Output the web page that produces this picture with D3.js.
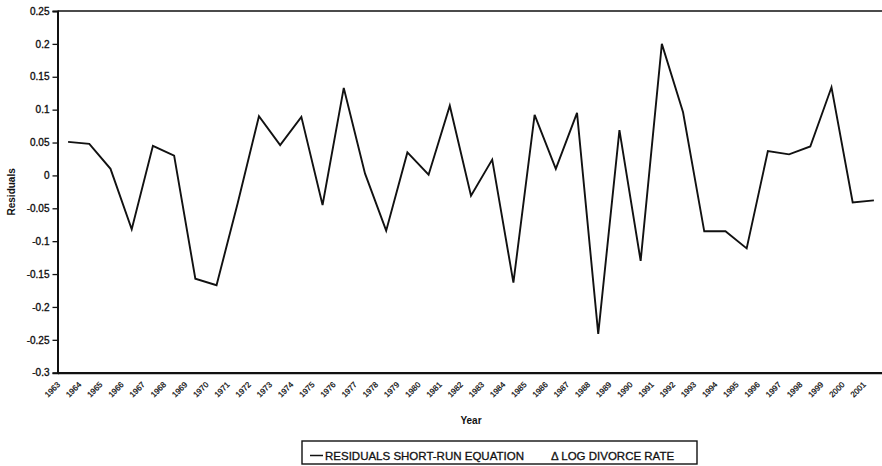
<!DOCTYPE html>
<html>
<head>
<meta charset="utf-8">
<script src="https://cdn.jsdelivr.net/npm/d3@7"></script>
<style>
html,body{margin:0;padding:0;background:#fff;}
svg{display:block;font-family:"Liberation Sans",Arial,sans-serif;}
</style>
</head>
<body>
<svg id="chart" width="882" height="466"></svg>
<script>
const years = ["1963","1964","1965","1966","1967","1968","1969","1970","1971","1972","1973","1974","1975","1976","1977","1978","1979","1980","1981","1982","1983","1984","1985","1986","1987","1988","1989","1990","1991","1992","1993","1994","1995","1996","1997","1998","1999","2000","2001"];
const residuals = [0.051,0.048,0.01,-0.082,0.045,0.03,-0.157,-0.167,-0.042,0.09,0.046,0.089,-0.045,0.133,0.003,-0.084,0.035,0.001,0.106,-0.031,0.024,-0.163,0.092,0.01,0.095,-0.241,0.069,-0.13,0.2,0.096,-0.085,-0.085,-0.111,0.037,0.032,0.044,0.134,-0.041,-0.038];
const yTickValues = [0.25,0.2,0.15,0.1,0.05,0,-0.05,-0.1,-0.15,-0.2,-0.25,-0.3];
const yTickLabels = ["0.25","0.2","0.15","0.1","0.05","0","-0.05","-0.1","-0.15","-0.2","-0.25","-0.3"];
const seriesName = "RESIDUALS SHORT-RUN EQUATION";
const seriesName2 = "\u0394 LOG DIVORCE RATE";

const svg = d3.select("#chart");
const L = 57.5, R = 884.5, T = 11, B = 372.7;

const x = d3.scalePoint().domain(years).range([L, R]).padding(0.5);
const y = d3.scaleLinear().domain([-0.3, 0.25]).range([B, T]);

// top border (and right, off-canvas)
svg.append("path").attr("d", `M${L},${T}H${R}V${B}`).attr("fill","none").attr("stroke","#111").attr("stroke-width",1.6);

// y axis
const yAxis = d3.axisLeft(y).tickValues(yTickValues)
  .tickFormat((d,i)=>yTickLabels[i]).tickSize(5).tickPadding(3);
const gy = svg.append("g").attr("transform",`translate(${L},0)`).call(yAxis);
gy.select(".domain").attr("stroke","#111").attr("stroke-width",2);
gy.selectAll(".tick line").attr("stroke","#111").attr("stroke-width",1.3);
gy.selectAll(".tick text").attr("font-size","10px").attr("fill","#111")
  .attr("stroke","#111").attr("stroke-width",0.35)
  .attr("font-family","'Liberation Sans',Arial,sans-serif");

// x axis
const xAxis = d3.axisBottom(x).tickSize(0).tickSizeOuter(0).tickFormat(d=>d);
const gx = svg.append("g").attr("transform",`translate(0,${B})`).call(xAxis);
gx.select(".domain").attr("stroke","#111").attr("stroke-width",2.2);
gx.selectAll(".tick text")
  .attr("font-size","8px").attr("fill","#111")
  .attr("stroke","#111").attr("stroke-width",0.25)
  .attr("font-family","'Liberation Sans',Arial,sans-serif")
  .attr("text-anchor","end").attr("dy",null).attr("y",null)
  .attr("transform","translate(-8,12.5) rotate(-45)");

// line
const line = d3.line().x((d,i)=>x(years[i])).y(d=>y(d));
svg.append("path").datum(residuals).attr("d",line)
  .attr("fill","none").attr("stroke","#111").attr("stroke-width",1.9).attr("stroke-linejoin","miter");

// axis titles
svg.append("text").attr("x",(L+R)/2).attr("y",424).attr("text-anchor","middle")
  .attr("font-size","10px").attr("font-weight","bold").attr("fill","#111").text("Year");
svg.append("text").attr("transform",`translate(15,${(T+B)/2}) rotate(-90)`).attr("text-anchor","middle")
  .attr("font-size","10px").attr("font-weight","bold").attr("fill","#111").text("Residuals");

// legend
const lg = svg.append("g");
lg.append("rect").attr("x",302).attr("y",441).attr("width",395).attr("height",23)
  .attr("fill","#fff").attr("stroke","#111").attr("stroke-width",1.4);
lg.append("line").attr("x1",310).attr("x2",323).attr("y1",455.5).attr("y2",455.5)
  .attr("stroke","#111").attr("stroke-width",1.5);
lg.append("text").attr("x",325).attr("y",460).attr("font-size","11.5px").attr("fill","#111")
  .attr("stroke","#111").attr("stroke-width",0.3).text(seriesName);
lg.append("text").attr("x",551).attr("y",460).attr("font-size","11.5px").attr("fill","#111")
  .attr("stroke","#111").attr("stroke-width",0.3).text(seriesName2);
</script>
</body>
</html>
